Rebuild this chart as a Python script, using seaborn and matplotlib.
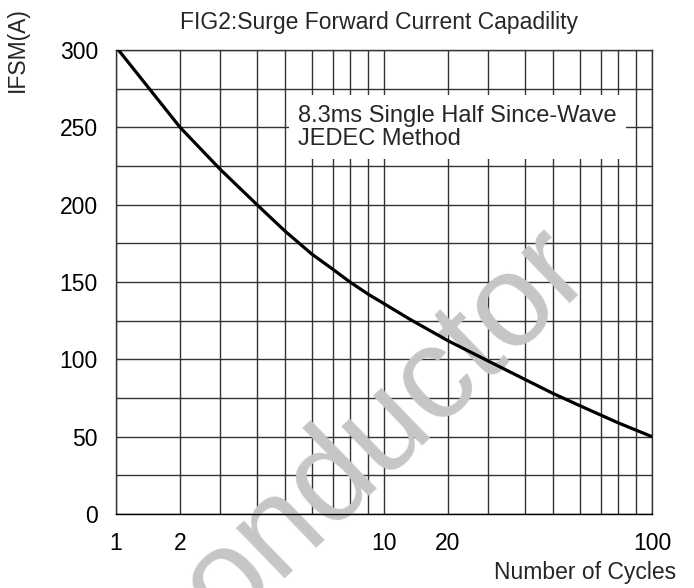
import numpy as np
import matplotlib
matplotlib.use('Agg')
import matplotlib.pyplot as plt
import seaborn as sns

# Data
cycles = [1, 2, 3, 4, 5, 6, 7, 8, 9, 10, 14, 20, 30, 40, 50, 60, 80, 100]
ifsm = [302, 250, 223, 200, 183, 168, 158, 150, 142, 136, 126, 112, 99, 87, 78, 70, 59, 50]

grid_x = [1, 2, 3, 4, 5, 6, 7, 8, 9, 10, 20, 30, 40, 50, 60, 70, 80, 90, 100]
x_labels = {1: '1', 2: '2', 10: '10', 20: '20', 100: '100'}
grid_y = list(range(0, 301, 25))

# the printed chart uses a hand-drawn "log" grid, same spacing in each decade
MANT = [1, 2, 3, 4, 5, 6, 7, 8, 9, 10]
FRAC = [0, .239, .388, .526, .63, .731, .811, .873, .942, 1.0]


def fwd(x):
    x = np.clip(np.asarray(x, dtype=float), 1e-9, None)
    d = np.floor(np.log10(x) + 1e-12)
    return d + np.interp(x / 10 ** d, MANT, FRAC)


def inv(y):
    y = np.asarray(y, dtype=float)
    d = np.floor(y)
    return 10 ** d * np.interp(y - d, FRAC, MANT)


sns.set_style('white')
plt.rcParams['font.family'] = ['Liberation Sans', 'DejaVu Sans']
FS = 16.5
GRID = '#333333'

fig = plt.figure(figsize=(6.94, 5.88), dpi=100)
ax = fig.add_axes([116 / 694, 1 - 514 / 588, 536 / 694, 464 / 588])
ax.set_xscale('function', functions=(fwd, inv))

sns.lineplot(x=cycles, y=ifsm, ax=ax, color='black', linewidth=2.3, zorder=3)

ax.set_xlim(1, 100)
ax.set_ylim(0, 300)
ax.set_xticks(grid_x)
ax.set_xticklabels([x_labels.get(v, '') for v in grid_x])
ax.xaxis.set_minor_locator(matplotlib.ticker.NullLocator())
ax.set_yticks(grid_y)
ax.set_yticklabels([str(v) if v % 50 == 0 else '' for v in grid_y])
ax.tick_params(axis='x', length=0, pad=13, labelsize=FS, colors='black')
ax.tick_params(axis='y', length=0, pad=13, labelsize=FS, colors='black')
ax.set_axisbelow(True)
ax.grid(True, color=GRID, linewidth=1.0)
for s in ax.spines.values():
    s.set_visible(True)
    s.set_color(GRID)
    s.set_linewidth(1.0)
ax.spines['bottom'].set_color('black')
ax.set_xlabel('')
ax.set_ylabel('')

# Note box
ax.text(5.5, 250, '8.3ms Single Half Since-Wave\nJEDEC Method', ha='left', va='center',
        fontsize=17, linespacing=1.08, zorder=4,
        bbox=dict(boxstyle='square,pad=0.4', fc='white', ec='none'))

# Watermark behind the curve
ax.text(594 / 694, 1 - 274 / 588, 'onductor', transform=fig.transFigure, rotation=44,
        rotation_mode='anchor', ha='right', va='baseline', fontsize=95,
        color='#c6c6c6', zorder=2, clip_on=False)

# Texts
fig.text(379 / 694, 1 - 22 / 588, 'FIG2:Surge Forward Current Capadility',
         ha='center', va='center', fontsize=FS)
fig.text(17 / 694, 1 - 50 / 588, 'IFSM(A)', rotation=90, ha='center', va='center', fontsize=FS)
fig.text(676 / 694, 1 - 572 / 588, 'Number of Cycles', ha='right', va='center', fontsize=FS)

fig.savefig('out.png', dpi=100)
